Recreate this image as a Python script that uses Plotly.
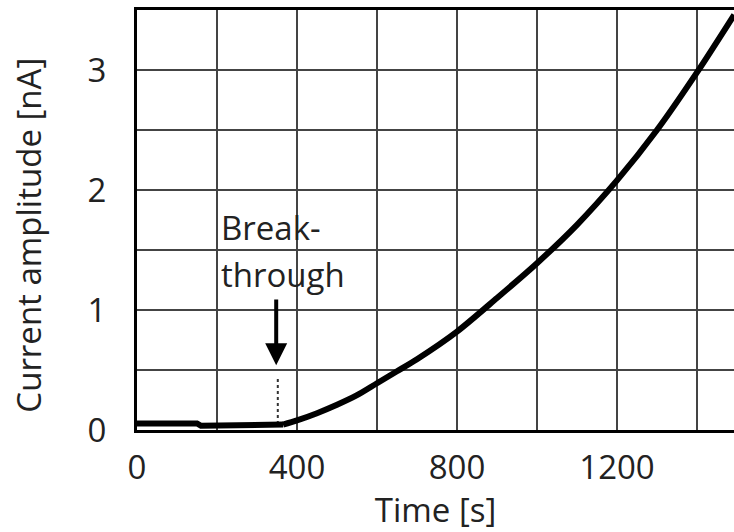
import plotly.graph_objects as go

# Data
base_time_s = [0, 150, 160, 365]
base_current_nA = [0.055, 0.055, 0.035, 0.045]

rise_time_s = [365, 400, 450, 500, 550, 600, 650, 700, 800, 900, 1000, 1100, 1200, 1300, 1400, 1493]
rise_current_nA = [0.045, 0.08, 0.14, 0.21, 0.29, 0.39, 0.49, 0.59, 0.82, 1.10, 1.39, 1.71, 2.08, 2.50, 2.98, 3.46]

x_ticks = [0, 400, 800, 1200]
y_ticks = [0, 1, 2, 3]

breakthrough_t = [352, 352]
breakthrough_y = [0.05, 0.43]

FONT = "Open Sans"
TXT = "#222222"
FS = 33

fig = go.Figure()

fig.add_trace(go.Scatter(
    x=breakthrough_t, y=breakthrough_y, mode="lines",
    line=dict(color="#333333", width=2, dash="3px,3px"),
    showlegend=False, hoverinfo="skip"))

fig.add_trace(go.Scatter(
    x=base_time_s, y=base_current_nA, mode="lines",
    line=dict(color="black", width=6),
    showlegend=False))

fig.add_trace(go.Scatter(
    x=rise_time_s, y=rise_current_nA, mode="lines",
    line=dict(color="black", width=6, shape="spline", smoothing=0.8),
    showlegend=False))

fig.add_annotation(
    x=348, y=0.54, ax=348, ay=1.1, xref="x", yref="y", axref="x", ayref="y",
    text="", showarrow=True, arrowhead=2, arrowsize=1.1, arrowwidth=4,
    arrowcolor="black", standoff=0)

fig.add_annotation(
    x=205, y=1.69, xref="x", yref="y", text="Break-",
    showarrow=False, xanchor="left", yanchor="middle", align="left",
    font=dict(family=FONT, size=FS, color=TXT))
fig.add_annotation(
    x=205, y=1.30, xref="x", yref="y", text="through",
    showarrow=False, xanchor="left", yanchor="middle", align="left",
    font=dict(family=FONT, size=FS, color=TXT))

# y-axis title
fig.add_annotation(
    x=-0.181, y=0.465, xref="paper", yref="paper", text="Current amplitude [nA]",
    textangle=-90, showarrow=False, xanchor="center", yanchor="middle",
    font=dict(family=FONT, size=FS, color=TXT))

fig.update_layout(
    width=734, height=532,
    margin=dict(l=137, r=0, t=10, b=102),
    plot_bgcolor="white", paper_bgcolor="white",
    font=dict(family=FONT, size=FS, color=TXT),
    xaxis=dict(
        range=[0, 1492.5], tickvals=x_ticks, ticktext=[str(v) for v in x_ticks],
        showgrid=True, gridcolor="#444444", gridwidth=2,
        minor=dict(dtick=200, tick0=0, showgrid=True, gridcolor="#444444", gridwidth=2),
        showline=True, linecolor="black", linewidth=3, mirror=True,
        ticks="", ticklabelstandoff=6, zeroline=False,
        title=dict(text="Time [s]", standoff=4, font=dict(family=FONT, size=FS, color=TXT)),
        fixedrange=True),
    yaxis=dict(
        range=[0, 3.5], tickvals=y_ticks, ticktext=[str(v) for v in y_ticks],
        showgrid=True, gridcolor="#444444", gridwidth=2,
        minor=dict(dtick=0.5, tick0=0, showgrid=True, gridcolor="#444444", gridwidth=2),
        showline=True, linecolor="black", linewidth=3,
        ticks="", ticklabelstandoff=21, zeroline=False,
        fixedrange=True),
)

fig.write_html("out.html")
